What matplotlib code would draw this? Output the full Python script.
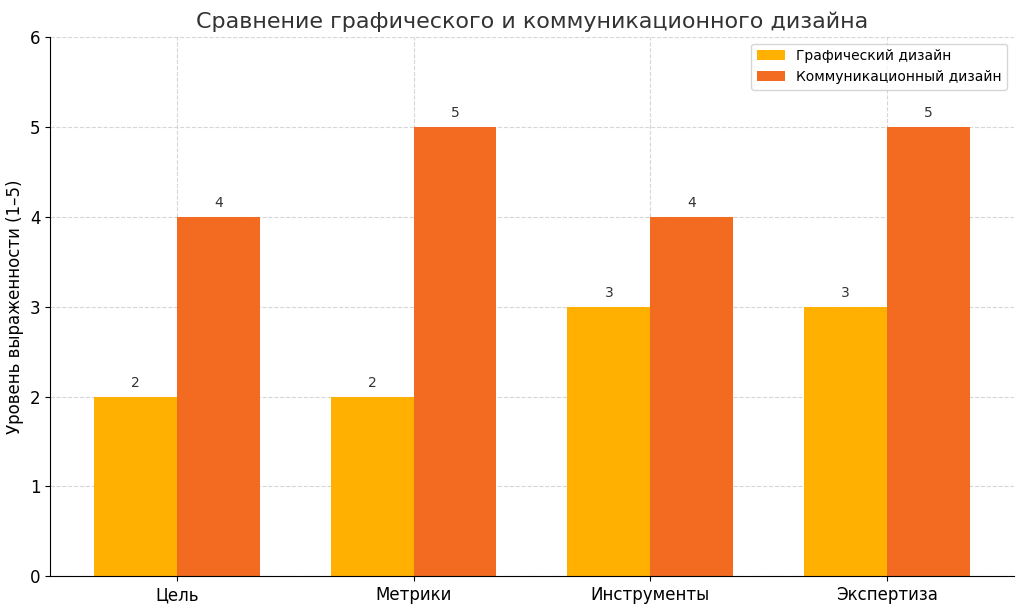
import matplotlib
matplotlib.use("Agg")
import matplotlib.pyplot as plt
import numpy as np

categories = ["Цель", "Метрики", "Инструменты", "Экспертиза"]
graphic = [2, 2, 3, 3]
communication = [4, 5, 4, 5]

fig, ax = plt.subplots(figsize=(10.24, 6.1), dpi=100)
x = np.arange(len(categories))
w = 0.35
b1 = ax.bar(x - w/2, graphic, w, color="#FFB000", label="Графический дизайн")
b2 = ax.bar(x + w/2, communication, w, color="#F26B21", label="Коммуникационный дизайн")
for bars in (b1, b2):
    for r in bars:
        ax.text(r.get_x() + r.get_width()/2, r.get_height() + 0.07, f"{int(r.get_height())}",
                ha="center", va="bottom", fontsize=10, color="#333333")
ax.set_xticks(x)
ax.set_xticklabels(categories, fontsize=12)
ax.set_ylim(0, 6)
ax.tick_params(axis="y", labelsize=12)
ax.set_ylabel("Уровень выраженности (1–5)", fontsize=12)
ax.set_title("Сравнение графического и коммуникационного дизайна", fontsize=16, color="#333333")
ax.grid(True, linestyle="--", color="#cccccc", alpha=0.8)
ax.set_axisbelow(True)
ax.spines["top"].set_visible(False)
ax.spines["right"].set_visible(False)
ax.legend(loc="upper right", fontsize=10)
fig.subplots_adjust(left=0.049, right=0.99, top=0.94, bottom=0.055)
fig.savefig("out.png")
